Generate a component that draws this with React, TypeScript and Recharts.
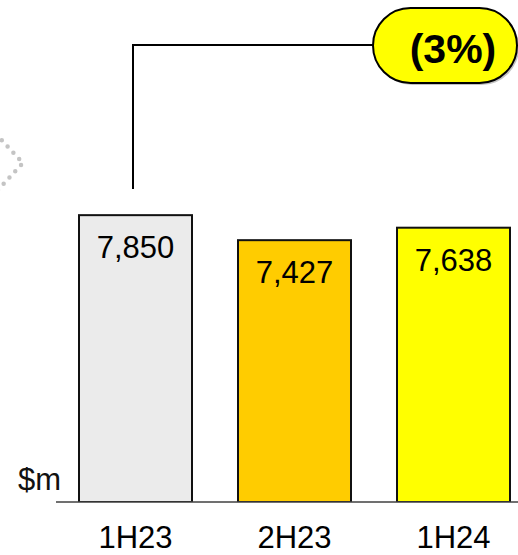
import * as React from 'react'
import { Bar, BarChart, LabelList, XAxis, YAxis } from 'recharts'

const categories = ['1H23', '2H23', '1H24']
const values = [7850, 7427, 7638]
const barColors = ['#EBEBEB', '#FFCC00', '#FFFF00']
const changeLabel = '(3%)'
const unitLabel = '$m'

const FONT = '"Liberation Sans", Arial, Helvetica, sans-serif'

const data = categories.map((name, i) => ({ name, value: values[i] }))

function BarShape(props: any) {
  const { x, y, width, height, index } = props
  return (
    <rect
      x={x}
      y={y}
      width={width}
      height={height}
      fill={barColors[index % barColors.length]}
      stroke="#111"
      strokeWidth={2}
    />
  )
}

function ValueLabel(props: any) {
  const { x, y, width, value } = props
  return (
    <text x={x + width / 2} y={y + 43} textAnchor="middle" fontSize={31} fontFamily={FONT} fill="#000">
      {Number(value).toLocaleString('en-US')}
    </text>
  )
}

export default function App() {
  return (
    <div style={{ position: 'absolute', left: 0, top: 0, width: 518, height: 555, overflow: 'hidden', background: '#fff' }}>
      <BarChart width={540} height={555} data={data} margin={{ top: 88, right: 7, bottom: 0, left: 56 }}>
        <XAxis
          dataKey="name"
          height={53}
          axisLine={{ stroke: '#404040', strokeWidth: 1.5 }}
          tickLine={false}
          tickMargin={18}
          tick={{ fontSize: 31, fill: '#000', fontFamily: FONT }}
        />
        <YAxis hide domain={[3000, 10000]} allowDataOverflow />
        <Bar dataKey="value" barSize={113} shape={<BarShape />} isAnimationActive={false}>
          <LabelList dataKey="value" content={<ValueLabel />} />
        </Bar>
      </BarChart>

      <svg
        width={518}
        height={555}
        style={{ position: 'absolute', left: 0, top: 0, pointerEvents: 'none' }}
      >
        {/* dotted chevron cut off at the left edge */}
        <polyline
          points="-4,134 23,163 -4,192"
          fill="none"
          stroke="#c4c4c4"
          strokeWidth={4.5}
          strokeLinecap="round"
          strokeDasharray="0 8.5"
        />
        {/* unit */}
        <text x={18} y={490} fontSize={31} fontFamily={FONT} fill="#111">
          {unitLabel}
        </text>
        {/* connector from the 1H23 column to the change pill */}
        <path d="M133,189 L133,45 L374,45" fill="none" stroke="#000" strokeWidth={2} />
        {/* change pill */}
        <rect x={375} y={10} width={144} height={75} rx={37.5} fill="#9a9a9a" opacity={0.6} />
        <rect x={373} y={8} width={144} height={75} rx={37.5} fill="#FFFF00" stroke="#000" strokeWidth={2} />
        <text x={453} y={63} textAnchor="middle" fontSize={41} fontWeight="bold" fontFamily={FONT} fill="#000">
          {changeLabel}
        </text>
      </svg>
    </div>
  )
}
